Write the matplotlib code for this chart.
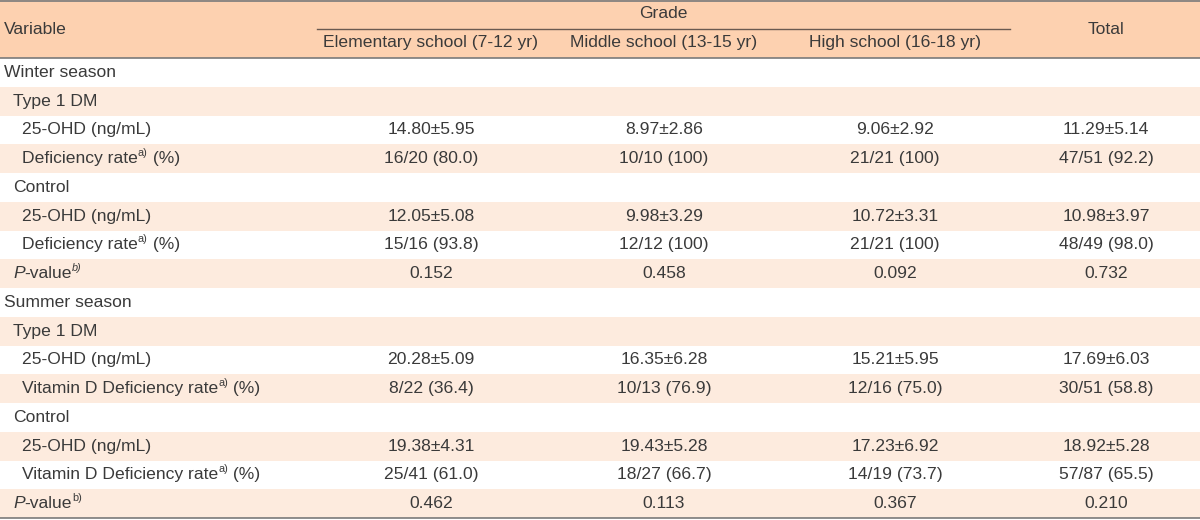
import matplotlib
matplotlib.use('Agg')
import matplotlib.pyplot as plt
from matplotlib.patches import Rectangle

# column headers
group_header = "Grade"
grade_cols = ["Elementary school (7-12 yr)", "Middle school (13-15 yr)", "High school (16-18 yr)"]
total_col = "Total"

# row labels: (indent level, pieces)  pieces = list of (text, style)
# style: n = normal, i = italic, s = superscript, si = italic superscript
row_labels = [
    (0, [("Winter season", "n")]),
    (1, [("Type 1 DM", "n")]),
    (2, [("25-OHD (ng/mL)", "n")]),
    (2, [("Deficiency rate", "n"), ("a)", "s"), (" (%)", "n")]),
    (1, [("Control", "n")]),
    (2, [("25-OHD (ng/mL)", "n")]),
    (2, [("Deficiency rate", "n"), ("a)", "s"), (" (%)", "n")]),
    (1, [("P", "i"), ("-value", "n"), ("b)", "si")]),
    (0, [("Summer season", "n")]),
    (1, [("Type 1 DM", "n")]),
    (2, [("25-OHD (ng/mL)", "n")]),
    (2, [("Vitamin D Deficiency rate", "n"), ("a)", "s"), (" (%)", "n")]),
    (1, [("Control", "n")]),
    (2, [("25-OHD (ng/mL)", "n")]),
    (2, [("Vitamin D Deficiency rate", "n"), ("a)", "s"), (" (%)", "n")]),
    (1, [("P", "i"), ("-value", "n"), ("b)", "s")]),
]

elementary = ["", "", "14.80±5.95", "16/20 (80.0)", "", "12.05±5.08", "15/16 (93.8)", "0.152",
              "", "", "20.28±5.09", "8/22 (36.4)", "", "19.38±4.31", "25/41 (61.0)", "0.462"]
middle = ["", "", "8.97±2.86", "10/10 (100)", "", "9.98±3.29", "12/12 (100)", "0.458",
          "", "", "16.35±6.28", "10/13 (76.9)", "", "19.43±5.28", "18/27 (66.7)", "0.113"]
high = ["", "", "9.06±2.92", "21/21 (100)", "", "10.72±3.31", "21/21 (100)", "0.092",
        "", "", "15.21±5.95", "12/16 (75.0)", "", "17.23±6.92", "14/19 (73.7)", "0.367"]
total = ["", "", "11.29±5.14", "47/51 (92.2)", "", "10.98±3.97", "48/49 (98.0)", "0.732",
         "", "", "17.69±6.03", "30/51 (58.8)", "", "18.92±5.28", "57/87 (65.5)", "0.210"]

W, H = 1200, 520
HEADER_BG = "#fdd1b0"
STRIPE_BG = "#fdebde"
TXT = "#3a3a3a"
LINE = "#7a7a7a"
FONT = ["Liberation Sans", "DejaVu Sans"]
FS = 12.6

col_x = [431, 664, 895, 1106]
indent_x = [4, 13, 22]
header_bottom = 58
row_h = (518 - header_bottom) / len(row_labels)

fig = plt.figure(figsize=(W / 100, H / 100), dpi=100)
ax = fig.add_axes([0, 0, 1, 1])
ax.set_xlim(0, W)
ax.set_ylim(H, 0)
ax.axis('off')

# backgrounds
ax.add_patch(Rectangle((0, 0), W, header_bottom, color=HEADER_BG, lw=0))
for i in range(len(row_labels)):
    if i % 2 == 1:
        ax.add_patch(Rectangle((0, header_bottom + i * row_h), W, row_h, color=STRIPE_BG, lw=0))

# rules
ax.plot([0, W], [0.8, 0.8], color=LINE, lw=1.2)
ax.plot([0, W], [header_bottom, header_bottom], color=LINE, lw=1.2)
ax.plot([0, W], [518, 518], color=LINE, lw=1.2)
ax.plot([317, 1010], [29, 29], color="#6a5a50", lw=1.0)

# header text
ax.text(4, 30, "Variable", ha='left', va='center', fontsize=FS, family=FONT, color=TXT)
ax.text((col_x[0] + col_x[2]) / 2, 14, group_header, ha='center', va='center', fontsize=FS, family=FONT, color=TXT)
for x, lab in zip(col_x[:3], grade_cols):
    ax.text(x, 43, lab, ha='center', va='center', fontsize=FS, family=FONT, color=TXT)
ax.text(col_x[3], 30, total_col, ha='center', va='center', fontsize=FS, family=FONT, color=TXT)

renderer = fig.canvas.get_renderer()

# row labels with superscripts
for i, (lvl, pieces) in enumerate(row_labels):
    yc = header_bottom + (i + 0.5) * row_h
    x = indent_x[lvl]
    for txt, sty in pieces:
        sup = sty.startswith("s")
        italic = "i" in sty
        t = ax.text(x, yc - 6 if sup else yc, txt, ha='left', va='center',
                    fontsize=FS * 0.62 if sup else FS, family=FONT, color=TXT,
                    style='italic' if italic else 'normal')
        bb = t.get_window_extent(renderer)
        x = x + bb.width

# values
for col, x in zip([elementary, middle, high, total], col_x):
    for i, v in enumerate(col):
        if v:
            yc = header_bottom + (i + 0.5) * row_h
            ax.text(x, yc, v, ha='center', va='center', fontsize=FS, family=FONT, color=TXT)

fig.savefig("out.png", dpi=100)
